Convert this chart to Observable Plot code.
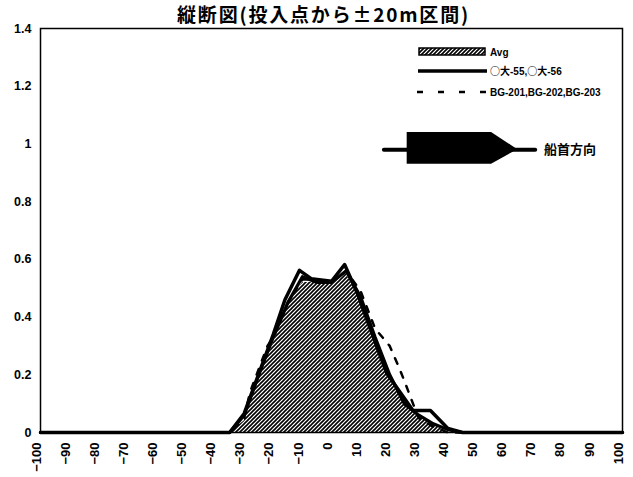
<!DOCTYPE html>
<html><head><meta charset="utf-8">
<script src="https://cdn.jsdelivr.net/npm/d3@7"></script>
<script src="https://cdn.jsdelivr.net/npm/@observablehq/plot@0.6"></script>
<style>
body{margin:0;background:#fff;}
#wrap{width:633px;height:477px;background:#fff;}
#title{height:28px;width:633px;text-align:center;font:bold 19px "Noto Sans CJK JP",sans-serif;line-height:28px;letter-spacing:1.8px;padding-left:14px;box-sizing:border-box;color:#000;white-space:nowrap;}
</style></head>
<body><div id="wrap"><div id="title"></div></div>
<script>
// ---- data ----
const titleText = "縦断図(投入点から±20m区間)";
const xTicks = [-100,-90,-80,-70,-60,-50,-40,-30,-20,-10,0,10,20,30,40,50,60,70,80,90,100];
const yTicks = [0,0.2,0.4,0.6,0.8,1,1.2,1.4];

const avgX = [-100,-35,-30,-25,-20,-15,-10,-5,0,5,10,15,20,25,30,35,40,100];
const avgY = [0,0,0.04,0.19,0.31,0.44,0.52,0.52,0.52,0.55,0.46,0.33,0.2,0.12,0.06,0.03,0,0];

const o55X = [-100,-35,-30,-20,-16,-11,-7,0,4.5,9,13.5,19,28,34,40,45,100];
const o55Y = [0,0,0.066,0.34,0.46,0.562,0.533,0.524,0.582,0.48,0.355,0.205,0.076,0.076,0.014,0,0];

const o56X = [-100,-35,-30,-25,-20,-15,-10,-5,0,5,10,15,20,25,30,35,40,45,100];
const o56Y = [0,0,0.06,0.2,0.33,0.45,0.54,0.52,0.52,0.56,0.47,0.33,0.2,0.1,0.06,0.03,0.01,0,0];

const bgX = [-100,-35,-30,-28,-25,-22,-20,-15,-10,-5,0,5,10,15,20,23,25,28,30,35,40,100];
const bgY = [0,0,0.05,0.14,0.22,0.3,0.33,0.45,0.53,0.53,0.52,0.56,0.49,0.36,0.3,0.23,0.18,0.1,0.05,0.02,0,0];

const legendLabels = ["Avg","○大-55,○大-56","BG-201,BG-202,BG-203"];
const directionLabel = "船首方向";
// direction arrow annotation (data units)
const arrowShaftX = [18,70];
const arrowShaftY = [0.98,0.98];
const arrowBodyX = [26,55,64];
const arrowBodyLo = [0.93,0.93,0.98];
const arrowBodyHi = [1.04,1.04,0.98];
const arrowLabelX = 73, arrowLabelY = 0.98;

const zip = (xs, ys) => xs.map((x,i)=>({x, y: ys[i]}));
const avg = zip(avgX, avgY), o55 = zip(o55X, o55Y), o56 = zip(o56X, o56Y), bg = zip(bgX, bgY);
const body = arrowBodyX.map((x,i)=>({x, lo: arrowBodyLo[i], hi: arrowBodyHi[i]}));
const shaft = zip(arrowShaftX, arrowShaftY);

const chart = Plot.plot({
  width: 633, height: 449,
  marginTop: 0, marginBottom: 45, marginLeft: 40, marginRight: 11,
  style: {background: "white", color: "black", fontFamily: "'Liberation Sans', Arial, sans-serif", fontSize: "12.5px", fontWeight: "bold", overflow: "visible"},
  x: {domain: [-100, 100]},
  y: {domain: [0, 1.4]},
  marks: [
    Plot.axisX({ticks: xTicks, tickRotate: -90, tickSize: 0, tickPadding: 10, dx: -4, fontSize: 13, label: null, tickFormat: d => String(d).replace("-", "−")}),
    Plot.axisY({ticks: yTicks, tickSize: 0, tickPadding: 9, label: null, tickFormat: d => String(d)}),
    Plot.areaY(avg, {x: "x", y: "y", fill: "url(#hatch)", stroke: "none"}),
    Plot.line(bg, {x: "x", y: "y", stroke: "black", strokeWidth: 2.5, strokeDasharray: "6,9"}),
    Plot.line(o56, {x: "x", y: "y", stroke: "black", strokeWidth: 3.2}),
    Plot.line(o55, {x: "x", y: "y", stroke: "black", strokeWidth: 3.5}),
    Plot.frame({stroke: "black", strokeWidth: 1.5}),
    Plot.line(shaft, {x: "x", y: "y", stroke: "black", strokeWidth: 4}),
    Plot.areaY(body, {x: "x", y1: "lo", y2: "hi", fill: "black"}),
    Plot.text([directionLabel], {x: arrowLabelX, y: arrowLabelY, text: d => d, textAnchor: "start", fontSize: 13, fontWeight: "bold", fontFamily: "'Noto Sans CJK JP', sans-serif"})
  ]
});

// hatch pattern
const svg = d3.select(chart);
const defs = svg.insert("defs", ":first-child");
const pat = defs.append("pattern").attr("id", "hatch").attr("patternUnits", "userSpaceOnUse").attr("width", 4).attr("height", 4);
pat.append("rect").attr("width", 4).attr("height", 4).attr("fill", "white");
pat.append("path").attr("d", "M-1,1 l2,-2 M0,4 l4,-4 M3,5 l2,-2").attr("stroke", "black").attr("stroke-width", 1.6);

// legend (inside plot, top right); svg starts 28px below page top
const off = 28;
const lg = svg.append("g").attr("font-family", "'Liberation Sans', 'Noto Sans CJK JP', sans-serif").attr("font-size", 10).attr("font-weight", "bold").attr("text-anchor", "start").attr("transform", `translate(0,${-off})`);
const rows = [49, 71, 92];
lg.append("rect").attr("x", 419).attr("y", 48).attr("width", 66).attr("height", 7).attr("fill", "url(#hatch)").attr("stroke", "black").attr("stroke-width", 1.5);
lg.append("line").attr("x1", 418).attr("x2", 487).attr("y1", rows[1]).attr("y2", rows[1]).attr("stroke", "black").attr("stroke-width", 3.5);
lg.append("line").attr("x1", 417).attr("x2", 487).attr("y1", rows[2]).attr("y2", rows[2]).attr("stroke", "black").attr("stroke-width", 2.5).attr("stroke-dasharray", "6,15");
legendLabels.forEach((t, i) => {
  const tx = lg.append("text").attr("x", 490).attr("y", rows[i] + (i===0?3:0)).attr("dy", "0.35em");
  if (i === 1) {
    t.split(/(○大)/).filter(s => s).forEach(s => {
      tx.append("tspan").attr("font-family", s === "○大" ? "'Noto Sans CJK JP', sans-serif" : null).text(s);
    });
  } else tx.text(t);
});

document.getElementById("title").textContent = titleText;
document.getElementById("wrap").appendChild(chart);
</script>
</body></html>
